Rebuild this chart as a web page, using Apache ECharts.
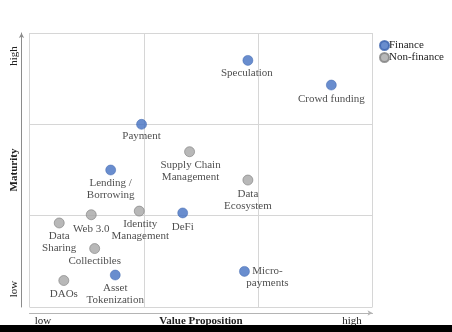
<!DOCTYPE html>
<html>
<head>
<meta charset="utf-8">
<script src="https://cdn.jsdelivr.net/npm/echarts@6/dist/echarts.min.js"></script>
<style>
  html, body { margin: 0; padding: 0; background: #fff; }
  #chart { width: 452px; height: 332px; }
</style>
</head>
<body>
<div id="chart"></div>
<script>
// Blockchain use cases: value proposition vs. maturity
const financeNames = ['Speculation', 'Crowd funding', 'Payment', 'Lending /\nBorrowing', 'DeFi', 'Micro-\npayments', 'Asset\nTokenization'];
const financeValue = [1.91, 2.64, 0.98, 0.71, 1.34, 1.88, 0.75];
const financeMaturity = [2.70, 2.43, 2.00, 1.50, 1.03, 0.39, 0.35];

const nonFinanceNames = ['Supply Chain\nManagement', 'Data\nEcosystem', 'Identity\nManagement', 'Web 3.0', 'Data\nSharing', 'Collectibles', 'DAOs'];
const nonFinanceValue = [1.40, 1.91, 0.96, 0.54, 0.26, 0.57, 0.30];
const nonFinanceMaturity = [1.70, 1.39, 1.05, 1.01, 0.92, 0.64, 0.29];

const seriesNames = ['Finance', 'Non-finance'];
const axisTitles = { x: 'Value Proposition', y: 'Maturity' };
const scaleWords = { low: 'low', high: 'high' };

// label offsets from the dot centre, in pixels
const labelOffsets = {
  'Speculation': [-1, 13],
  'Crowd funding': [0, 14],
  'Payment': [0, 12],
  'Lending /\nBorrowing': [0, 19],
  'DeFi': [0, 14],
  'Micro-\npayments': [23, 5.5],
  'Asset\nTokenization': [0, 19],
  'Supply Chain\nManagement': [1, 19.5],
  'Data\nEcosystem': [0, 20],
  'Identity\nManagement': [1, 19],
  'Web 3.0': [0, 14],
  'Data\nSharing': [0, 19],
  'Collectibles': [0, 13],
  'DAOs': [0, 14]
};

const FONT = 'Liberation Serif';
const TEXT = '#222';

function points(names, xs, ys) {
  return names.map((n, i) => ({
    name: n,
    value: [xs[i], ys[i]],
    label: { offset: labelOffsets[n] || [0, 14] }
  }));
}

const chart = echarts.init(document.getElementById('chart'));

const splitStyle = { show: true, lineStyle: { color: '#d6d6d6', width: 1 } };

chart.setOption({
  animation: false,
  backgroundColor: '#fff',
  textStyle: { fontFamily: FONT },
  grid: { left: 29.5, top: 33, width: 343, height: 274 },
  legend: {
    orient: 'vertical',
    left: 374,
    top: 35,
    icon: 'circle',
    itemWidth: 9,
    itemHeight: 9,
    itemGap: 1,
    textStyle: { fontFamily: FONT, fontSize: 11, color: TEXT, padding: [0, 0, 0, -5] },
    data: seriesNames
  },
  xAxis: [
    {
      type: 'value', min: 0, max: 3, interval: 1,
      axisLine: { show: false }, axisTick: { show: false }, axisLabel: { show: false },
      splitLine: splitStyle
    },
    {
      type: 'value', min: 0, max: 3, position: 'bottom', offset: 6,
      axisLine: { show: true, onZero: false, symbol: ['none', 'arrow'], symbolSize: [4, 5], lineStyle: { color: '#b4b4b4', width: 1 } },
      axisTick: { show: false }, axisLabel: { show: false }, splitLine: { show: false }
    }
  ],
  yAxis: [
    {
      type: 'value', min: 0, max: 3, interval: 1,
      axisLine: { show: false }, axisTick: { show: false }, axisLabel: { show: false },
      splitLine: splitStyle
    },
    {
      type: 'value', min: 0, max: 3, position: 'left', offset: 8,
      axisLine: { show: true, onZero: false, symbol: ['none', 'arrow'], symbolSize: [4, 5], lineStyle: { color: '#8c8c8c', width: 1 } },
      axisTick: { show: false }, axisLabel: { show: false }, splitLine: { show: false }
    }
  ],
  series: [
    {
      name: seriesNames[0],
      type: 'scatter',
      symbolSize: 10,
      itemStyle: { color: '#4370c2', borderColor: '#3a62ad', borderWidth: 0.6 },
      label: {
        show: true, position: 'inside', formatter: '{b}',
        fontFamily: FONT, fontSize: 11, lineHeight: 11.5, color: TEXT, align: 'center'
      },
      data: points(financeNames, financeValue, financeMaturity)
    },
    {
      name: seriesNames[1],
      type: 'scatter',
      symbolSize: 10,
      itemStyle: { color: '#a6a6a6', borderColor: '#7f7f7f', borderWidth: 0.8 },
      label: {
        show: true, position: 'inside', formatter: '{b}',
        fontFamily: FONT, fontSize: 11, lineHeight: 11.5, color: TEXT, align: 'center'
      },
      data: points(nonFinanceNames, nonFinanceValue, nonFinanceMaturity)
    }
  ],
  graphic: [
    { type: 'text', x: 14, y: 170, rotation: Math.PI / 2,
      style: { text: axisTitles.y, font: 'bold 11px "' + FONT + '"', fill: TEXT, align: 'center', verticalAlign: 'middle' } },
    { type: 'text', x: 14, y: 56, rotation: Math.PI / 2,
      style: { text: scaleWords.high, font: '11px "' + FONT + '"', fill: TEXT, align: 'center', verticalAlign: 'middle' } },
    { type: 'text', x: 14, y: 289, rotation: Math.PI / 2,
      style: { text: scaleWords.low, font: '11px "' + FONT + '"', fill: TEXT, align: 'center', verticalAlign: 'middle' } },
    { type: 'text', x: 201, y: 321,
      style: { text: axisTitles.x, font: 'bold 11px "' + FONT + '"', fill: TEXT, align: 'center', verticalAlign: 'middle' } },
    { type: 'text', x: 43, y: 321,
      style: { text: scaleWords.low, font: '11px "' + FONT + '"', fill: TEXT, align: 'center', verticalAlign: 'middle' } },
    { type: 'text', x: 352, y: 321,
      style: { text: scaleWords.high, font: '11px "' + FONT + '"', fill: TEXT, align: 'center', verticalAlign: 'middle' } },
    { type: 'rect', left: 0, top: 325, shape: { width: 452, height: 7 }, style: { fill: '#000' }, z: 100 }
  ]
});
</script>
</body>
</html>
